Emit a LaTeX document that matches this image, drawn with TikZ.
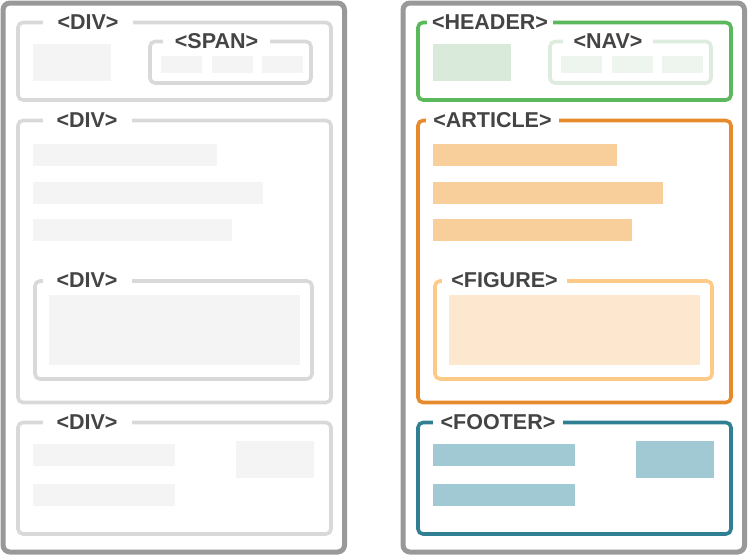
\documentclass[tikz,border=0pt]{standalone}
\usepackage{fontspec}
\setmainfont{Liberation Sans}
\definecolor{outergray}{HTML}{999999}
\definecolor{boxgray}{HTML}{D9D9D9}
\definecolor{fillgray}{HTML}{F4F4F4}
\definecolor{txtgray}{HTML}{444444}
\definecolor{hgreen}{HTML}{5CB85C}
\definecolor{hfill}{HTML}{D9EADB}
\definecolor{navbox}{HTML}{DEEBDF}
\definecolor{navfill}{HTML}{EDF5EE}
\definecolor{aorange}{HTML}{E68A2C}
\definecolor{afill}{HTML}{F8CF9B}
\definecolor{fstroke}{HTML}{FDCA88}
\definecolor{ffill}{HTML}{FDE8CF}
\definecolor{fteal}{HTML}{317F92}
\definecolor{tfill}{HTML}{A1C9D3}
\begin{document}
\begin{tikzpicture}[x=1pt,y=-1pt,
  outerbox/.style={draw=outergray,line width=5pt,rounded corners=7pt},
  innerbox/.style={line width=3.6pt,rounded corners=5pt},
  tag/.style={fill=white,inner xsep=0pt,inner ysep=0pt,text=txtgray,
    font=\bfseries\fontsize{21.5}{22}\selectfont,anchor=center},
  blk/.style={draw=none}]
\useasboundingbox (0,0) rectangle (748,555);
% ---------------- left panel ----------------
\draw[outerbox] (3,3) rectangle (344.5,552);
% DIV 1
\draw[innerbox,draw=boxgray] (18,22.5) rectangle (331,100);
\fill[fillgray] (33,44) rectangle (111,81);
\draw[innerbox,draw=boxgray] (150,41.5) rectangle (311,83);
\fill[fillgray] (161,56) rectangle (202,73);
\fill[fillgray] (212,56) rectangle (253,73);
\fill[fillgray] (262,56) rectangle (303,73);
\node[tag,minimum width=90pt] (ldiv1) at (88,22) {<DIV>};
\node[tag,minimum width=107pt] (lspan) at (216.5,41) {<SPAN>};
% DIV 2
\draw[innerbox,draw=boxgray] (18,120.5) rectangle (331,402.5);
\fill[fillgray] (33,144) rectangle (217,166);
\fill[fillgray] (33,182) rectangle (263,204);
\fill[fillgray] (33,219) rectangle (232,241);
\draw[innerbox,draw=boxgray] (35,281) rectangle (312,379);
\fill[fillgray] (49,295) rectangle (300,365);
\node[tag,minimum width=89pt] (ldiv2) at (87,120) {<DIV>};
\node[tag,minimum width=89pt] (ldiv3) at (87,280.5) {<DIV>};
% DIV 3
\draw[innerbox,draw=boxgray] (18,422.5) rectangle (331,534);
\fill[fillgray] (33,444) rectangle (175,466);
\fill[fillgray] (33,484) rectangle (175,506);
\fill[fillgray] (236,441) rectangle (314,478);
\node[tag,minimum width=89pt] (ldiv4) at (87,422) {<DIV>};
% ---------------- right panel ----------------
\draw[outerbox] (403,3) rectangle (744.5,552);
% HEADER
\draw[innerbox,draw=hgreen] (418,22.5) rectangle (731,100);
\fill[hfill] (433,44) rectangle (511,81);
\draw[innerbox,draw=navbox] (550,41.5) rectangle (711,83);
\fill[navfill] (561,56) rectangle (602,73);
\fill[navfill] (612,56) rectangle (653,73);
\fill[navfill] (662,56) rectangle (703,73);
\node[tag,minimum width=126pt] (header) at (490,22) {<HEADER>};
\node[tag,minimum width=90pt] (nav) at (608,41) {<NAV>};
% ARTICLE
\draw[innerbox,draw=aorange] (418,120.5) rectangle (731,402.5);
\fill[afill] (433,144) rectangle (617,166);
\fill[afill] (433,182) rectangle (663,204);
\fill[afill] (433,219) rectangle (632,241);
\draw[innerbox,draw=fstroke] (435,281) rectangle (712,379);
\fill[ffill] (449,295) rectangle (700,365);
\node[tag,minimum width=133pt] (article) at (492.5,120) {<ARTICLE>};
\node[tag,minimum width=125pt] (figure) at (504.5,280.5) {<FIGURE>};
% FOOTER
\draw[innerbox,draw=fteal] (418,422.5) rectangle (731,534);
\fill[tfill] (433,444) rectangle (575,466);
\fill[tfill] (433,484) rectangle (575,506);
\fill[tfill] (636,441) rectangle (714,478);
\node[tag,minimum width=130pt] (footer) at (498,422) {<FOOTER>};
\end{tikzpicture}
\end{document}
